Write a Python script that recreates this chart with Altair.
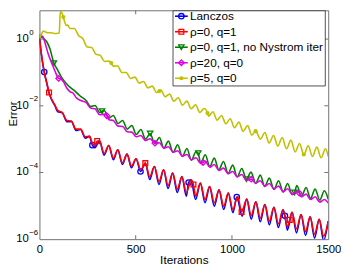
import altair as alt
import pandas as pd

# ---------------- data (iteration, log10(error)) ----------------
lz_it = [0, 8, 25, 40, 50, 65, 80, 95, 118, 143, 166, 190, 214, 238, 260, 275, 288, 312, 336, 360,
         384, 407, 431, 455, 478, 502, 525, 550, 573, 597, 621, 645, 668, 692, 716, 740, 763, 775, 787, 811,
         836, 860, 884, 908, 933, 957, 981, 1005, 1025, 1053, 1077, 1100, 1124, 1147, 1171, 1194, 1218, 1241, 1265, 1275,
         1288, 1312, 1335, 1359, 1382, 1406, 1429, 1453, 1476, 1500]
lz_exp = [0.05, -0.37, -0.99, -1.37, -1.62, -1.84, -1.99, -2.18, -2.21, -2.48, -2.47, -2.74, -2.71, -2.97, -2.92, -3.18, -3.26, -3.05, -3.48, -3.19,
          -3.62, -3.32, -3.76, -3.45, -3.86, -3.59, -3.97, -3.72, -4.21, -3.82, -4.36, -3.92, -4.48, -4.02, -4.60, -4.12, -4.71, -4.30, -4.22, -4.81,
          -4.32, -4.91, -4.42, -5.01, -4.52, -5.11, -4.62, -5.21, -4.74, -5.31, -4.80, -5.40, -4.88, -5.48, -4.96, -5.57, -5.04, -5.65, -5.12, -5.30,
          -5.73, -5.19, -5.81, -5.26, -5.89, -5.33, -5.97, -5.40, -6.04, -5.46]
lz_mark = [25, 275, 525, 775, 1025, 1275]

r_it = [0, 8, 25, 40, 50, 65, 80, 95, 118, 143, 166, 190, 214, 238, 260, 275, 288, 300, 312, 336,
        360, 384, 407, 431, 455, 478, 502, 526, 550, 573, 597, 621, 645, 668, 692, 716, 740, 763, 787, 800,
        811, 836, 860, 884, 908, 933, 957, 981, 1005, 1030, 1050, 1077, 1100, 1124, 1147, 1171, 1194, 1218, 1241, 1265,
        1288, 1300, 1312, 1335, 1359, 1382, 1406, 1429, 1453, 1476, 1500]
r_exp = [0.05, -0.35, -0.99, -1.35, -1.60, -1.82, -1.97, -2.14, -2.20, -2.44, -2.46, -2.70, -2.70, -2.93, -2.91, -3.13, -3.20, -3.06, -3.05, -3.43,
         -3.19, -3.57, -3.32, -3.71, -3.45, -3.81, -3.59, -3.92, -3.72, -4.13, -3.82, -4.27, -3.92, -4.39, -4.02, -4.50, -4.12, -4.61, -4.22, -4.36,
         -4.71, -4.32, -4.81, -4.42, -4.91, -4.52, -5.01, -4.62, -5.11, -4.72, -5.18, -4.80, -5.29, -4.88, -5.37, -4.96, -5.46, -5.04, -5.54, -5.12,
         -5.62, -5.42, -5.19, -5.69, -5.26, -5.77, -5.33, -5.85, -5.40, -5.91, -5.46]
r_mark = [50, 300, 550, 800, 1050, 1300]

g_it = [0, 20, 38, 55, 75, 90, 115, 150, 185, 210, 242, 266, 289, 313, 325, 337, 361, 384, 408, 432,
        456, 480, 503, 527, 551, 575, 599, 623, 646, 670, 694, 718, 742, 766, 789, 813, 825, 837, 861, 885,
        908, 932, 956, 980, 1004, 1027, 1051, 1075, 1099, 1123, 1147, 1170, 1194, 1218, 1242, 1266, 1289, 1313, 1325, 1337,
        1361, 1385, 1408, 1432, 1456, 1480, 1500]
g_exp = [0.10, 0.03, -0.08, -0.30, -0.72, -0.88, -1.15, -1.40, -1.56, -1.70, -1.84, -2.02, -1.99, -2.20, -2.16, -2.15, -2.37, -2.29, -2.53, -2.44,
         -2.70, -2.59, -2.86, -2.71, -3.00, -2.83, -3.14, -2.95, -3.27, -3.06, -3.40, -3.17, -3.52, -3.28, -3.63, -3.38, -3.42, -3.72, -3.47, -3.82,
         -3.57, -3.92, -3.67, -4.03, -3.78, -4.13, -3.88, -4.20, -3.99, -4.33, -4.08, -4.42, -4.17, -4.51, -4.25, -4.59, -4.33, -4.67, -4.60, -4.39,
         -4.72, -4.45, -4.78, -4.50, -4.83, -4.55, -4.80]
g_mark = [75, 325, 575, 825, 1075, 1325]

m_it = [0, 10, 18, 30, 47, 64, 80, 100, 112, 125, 141, 160, 175, 190, 215, 242, 266, 289, 313, 337,
        350, 361, 384, 408, 432, 456, 480, 503, 527, 551, 575, 600, 623, 646, 670, 694, 718, 742, 766, 789,
        813, 837, 850, 861, 885, 908, 932, 956, 980, 1004, 1027, 1051, 1075, 1100, 1123, 1147, 1170, 1194, 1218, 1242,
        1266, 1289, 1313, 1337, 1350, 1361, 1385, 1408, 1432, 1456, 1480, 1500]
m_exp = [0.12, 0.10, 0.07, -0.13, -0.47, -0.72, -0.95, -1.18, -1.20, -1.28, -1.46, -1.58, -1.62, -1.75, -1.84, -1.90, -2.07, -2.09, -2.27, -2.25,
         -2.30, -2.42, -2.44, -2.61, -2.62, -2.78, -2.79, -2.93, -2.89, -3.04, -2.99, -3.12, -3.11, -3.27, -3.23, -3.39, -3.35, -3.51, -3.46, -3.62,
         -3.56, -3.73, -3.70, -3.66, -3.84, -3.76, -3.94, -3.87, -4.04, -3.97, -4.13, -4.06, -4.23, -4.20, -4.32, -4.25, -4.41, -4.33, -4.49, -4.41,
         -4.57, -4.49, -4.65, -4.57, -4.62, -4.73, -4.65, -4.81, -4.73, -4.89, -4.81, -4.92]
m_mark = [100, 350, 600, 850, 1100, 1350]

y_it = [0, 10, 20, 30, 45, 60, 75, 90, 103, 107, 111, 117, 124, 132, 140, 147, 158, 181, 203, 226,
        248, 271, 293, 316, 338, 361, 373, 383, 406, 428, 451, 473, 496, 518, 541, 563, 586, 608, 623, 631,
        653, 676, 698, 721, 743, 766, 788, 811, 833, 856, 873, 878, 901, 923, 946, 968, 991, 1013, 1036, 1058,
        1081, 1103, 1123, 1148, 1171, 1193, 1216, 1238, 1261, 1283, 1306, 1328, 1351, 1373, 1396, 1418, 1441, 1463, 1486, 1500]
y_exp = [0.02, 0.14, 0.24, 0.22, 0.19, 0.19, 0.17, 0.17, 0.18, 0.70, 0.83, 0.78, 0.66, 0.50, 0.41, 0.42, 0.32, 0.32, 0.11, 0.01,
         -0.24, -0.25, -0.45, -0.49, -0.67, -0.66, -0.72, -0.81, -0.80, -1.00, -1.00, -1.18, -1.14, -1.32, -1.27, -1.46, -1.41, -1.60, -1.56, -1.53,
         -1.73, -1.65, -1.86, -1.76, -1.98, -1.86, -2.09, -1.97, -2.20, -2.08, -2.22, -2.31, -2.18, -2.43, -2.29, -2.54, -2.39, -2.66, -2.49, -2.77,
         -2.59, -2.88, -2.76, -3.00, -2.80, -3.12, -2.89, -3.21, -2.95, -3.29, -3.03, -3.38, -3.13, -3.46, -3.20, -3.52, -3.24, -3.56, -3.29, -3.52]
y_mark = [124, 373, 623, 873, 1123, 1373]

x_ticks = [0, 500, 1000, 1500]
y_ticks = [1e-6, 1e-4, 1e-2, 1]
y_tick_exps = ["\u22126", "\u22124", "\u22122", "0"]

# (label, iters, exps, marker iters, color, shape, filled, size)
SERIES = [
    ("Lanczos", lz_it, lz_exp, lz_mark, "#0000ff", "circle", False, 30),
    ("\u03c1=0, q=1", r_it, r_exp, r_mark, "#ff0000", "square", False, 24),
    ("\u03c1=0, q=1, no Nystrom iter", g_it, g_exp, g_mark, "#008000", "triangle-down", False, 30),
    ("\u03c1=20, q=0", m_it, m_exp, m_mark, "#e000e0", "diamond", False, 32),
    ("\u03c1=5, q=0", y_it, y_exp, y_mark, "#c0c000", "circle", True, 18),
]

FONT = "Liberation Sans"
W, H = 294, 233
GRAY = "#6f6f6f"

X = alt.X("it:Q", scale=alt.Scale(domain=[0, 1500], nice=False, zero=False),
          axis=alt.Axis(values=x_ticks, format="d", ticks=False, domain=False, grid=False,
                        labelFontSize=11.5, labelPadding=5, labelFlush=False, labelOverlap=False,
                        title="Iterations", titleFontSize=12, titleFontWeight="normal",
                        titleY=24.7, titleBaseline="alphabetic"))
Y = alt.Y("err:Q", scale=alt.Scale(type="log", domain=[1e-6, 7.3], nice=False),
          axis=alt.Axis(labels=False, ticks=False, domain=False, grid=False,
                        title="Error", titleFontSize=11.5, titleFontWeight="normal",
                        titleX=-23.6, titleY=105, titleBaseline="alphabetic", titleAlign="center"))

layers = []
for label, its, exps, marks, color, shape, filled, size in SERIES:
    df = pd.DataFrame({"it": its, "err": [10 ** e for e in exps]})
    layers.append(alt.Chart(df).mark_line(color=color, strokeWidth=1.6, interpolate="monotone", clip=True)
                  .encode(x=X, y=Y))
    mk = df[df["it"].isin(marks)]
    layers.append(alt.Chart(mk).mark_point(shape=shape, filled=filled, color=color, size=size,
                                           strokeWidth=1.3, opacity=1, clip=True)
                  .encode(x=X, y=Y))

# inner ticks (MATLAB style)
xt = pd.DataFrame({"it": x_ticks[1:-1]})
yt = pd.DataFrame({"err": y_ticks[1:]})
layers.append(alt.Chart(xt).mark_rule(color=GRAY, strokeWidth=1).encode(x=X, y=alt.value(H), y2=alt.value(H - 4)))
layers.append(alt.Chart(xt).mark_rule(color=GRAY, strokeWidth=1).encode(x=X, y=alt.value(0), y2=alt.value(4)))
layers.append(alt.Chart(yt).mark_rule(color=GRAY, strokeWidth=1).encode(y=Y, x=alt.value(0), x2=alt.value(4)))
layers.append(alt.Chart(yt).mark_rule(color=GRAY, strokeWidth=1).encode(y=Y, x=alt.value(W - 4), x2=alt.value(W)))

# y tick labels as 10 with superscript exponent
yl = pd.DataFrame({"err": y_ticks, "exp": y_tick_exps})
layers.append(alt.Chart(yl).mark_text(align="left", baseline="middle", font=FONT, fontSize=11.5, color="black")
              .encode(y=Y, x=alt.value(-23.5), text=alt.value("10")))
layers.append(alt.Chart(yl).mark_text(align="left", baseline="middle", font=FONT, fontSize=8, dy=-6.5, color="black")
              .encode(y=Y, x=alt.value(-10.4), text="exp:N"))

# legend
one = pd.DataFrame({"a": [0]})
layers.append(alt.Chart(one).mark_rect(fill="white", stroke="#222222", strokeWidth=0.8)
              .encode(x=alt.value(136), x2=alt.value(291), y=alt.value(0.5), y2=alt.value(77)))
row_y = [6, 21.8, 37.6, 53.4, 69.2]
for (label, its, exps, marks, color, shape, filled, size), ry in zip(SERIES, row_y):
    layers.append(alt.Chart(one).mark_rule(color=color, strokeWidth=1.6)
                  .encode(x=alt.value(138), x2=alt.value(151), y=alt.value(ry)))
    layers.append(alt.Chart(one).mark_point(shape=shape, filled=filled, color=color, size=size,
                                            strokeWidth=1.3, opacity=1)
                  .encode(x=alt.value(144.5), y=alt.value(ry)))
    layers.append(alt.Chart(one).mark_text(align="left", baseline="middle", font=FONT, fontSize=12, color="black")
                  .encode(x=alt.value(153.3), y=alt.value(ry), text=alt.value(label)))

chart = (alt.layer(*layers)
         .properties(width=W, height=H, autosize=alt.AutoSizeParams(type="none"),
                     padding={"left": 32, "top": 0, "right": 13, "bottom": 27})
         .configure_view(stroke=GRAY, strokeWidth=1)
         .configure_axis(labelFont=FONT, titleFont=FONT, labelColor="black", titleColor="black"))

chart.save("out.html", embed_options={"renderer": "svg", "actions": False})
